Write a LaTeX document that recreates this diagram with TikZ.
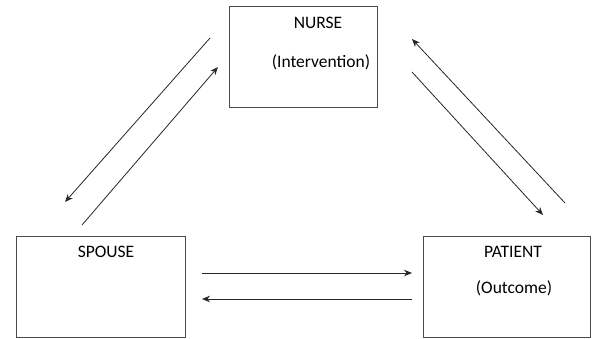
\documentclass[tikz,border=0pt]{standalone}
\usepackage{fontspec}
\setmainfont{Carlito}
\usetikzlibrary{arrows.meta}

\begin{document}
\begin{tikzpicture}
    [ x=1pt, y=-1pt,
      font={\fontsize{17.5}{21}\selectfont},
      box/.style={draw=black!70, line width=1pt, inner sep=0pt, outer sep=0pt},
      flow/.style={black!85, line width=.8pt, ->, >={Stealth[length=8pt,width=6.5pt]}}
    ]
    \useasboundingbox (0, 0) rectangle (592, 339);

    % Boxes
    \node[box, minimum width=148, minimum height=101] (nurse) at (303, 57.5) {};
    \node[box, minimum width=169, minimum height=100] (spouse) at (100.5, 287) {};
    \node[box, minimum width=167, minimum height=100] (patient) at (506.5, 287) {};

    % Labels
    \node (nursetext) at (318, 23) {NURSE};
    \node (nursesub) at (321, 62) {(Intervention)};
    \node (spousetext) at (106, 252) {SPOUSE};
    \node (patienttext) at (513, 252) {PATIENT};
    \node (patientsub) at (514, 288) {(Outcome)};

    % Arrow ends
    \coordinate (ns1) at (210, 38);
    \coordinate (ns2) at (65, 202);
    \coordinate (sn1) at (82, 225);
    \coordinate (sn2) at (218, 67);
    \coordinate (pn1) at (565, 203);
    \coordinate (pn2) at (412, 39);
    \coordinate (np1) at (412, 72);
    \coordinate (np2) at (543, 215);
    \coordinate (sp1) at (202, 273);
    \coordinate (sp2) at (412, 273);
    \coordinate (ps1) at (412, 299);
    \coordinate (ps2) at (202, 299);

    % Arrows
    \draw[flow] (ns1) -- (ns2);
    \draw[flow] (sn1) -- (sn2);
    \draw[flow] (pn1) -- (pn2);
    \draw[flow] (np1) -- (np2);
    \draw[flow] (sp1) -- (sp2);
    \draw[flow] (ps1) -- (ps2);

\end{tikzpicture}
\end{document}
